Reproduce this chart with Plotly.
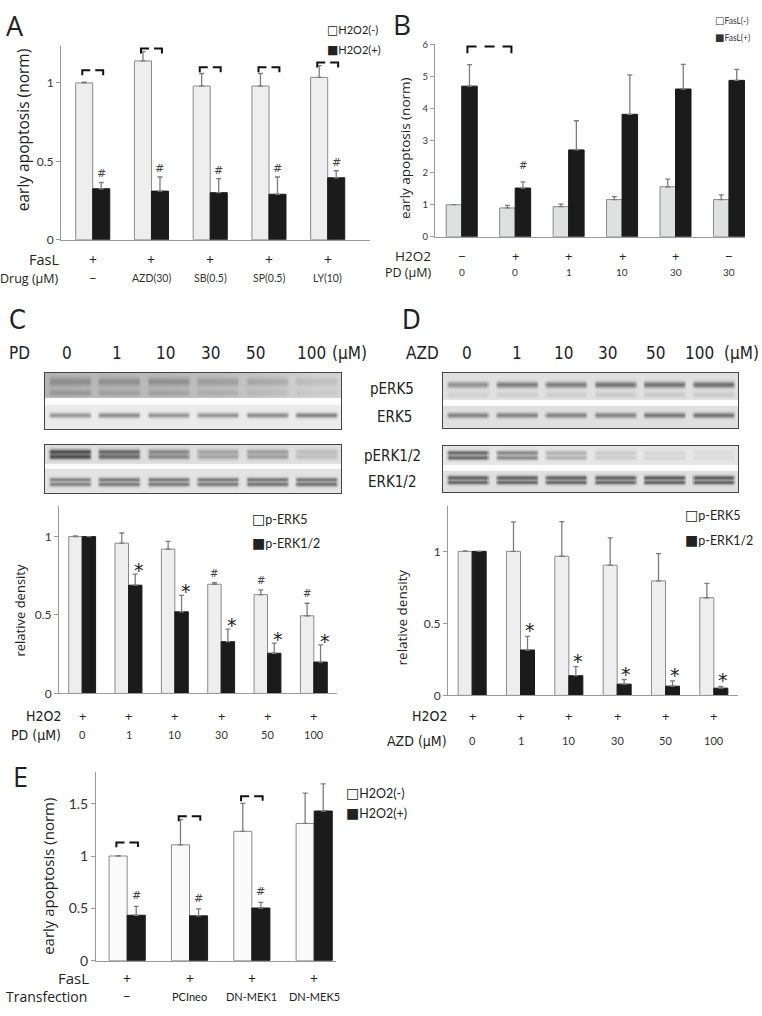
import numpy as np
import plotly.graph_objects as go

W, H = 762, 1016

# ---------------- data ----------------
# Panel A
A_fasl = ["+", "+", "+", "+", "+"]
A_drugs = ["\u2212", "AZD(30)", "SB(0.5)", "SP(0.5)", "LY(10)"]
A_neg = [1.00, 1.14, 0.98, 0.98, 1.035]
A_neg_err = [0.004, 0.06, 0.08, 0.08, 0.075]
A_pos = [0.325, 0.31, 0.30, 0.29, 0.395]
A_pos_err = [0.04, 0.09, 0.09, 0.11, 0.045]
A_pos_sig = ["#", "#", "#", "#", "#"]
A_brackets = [1.08, 1.22, 1.10, 1.10, 1.13]

# Panel B
B_h2o2 = ["\u2212", "+", "+", "+", "+", "\u2212"]
B_pd = ["0", "0", "1", "10", "30", "30"]
B_neg = [1.00, 0.90, 0.94, 1.16, 1.56, 1.16]
B_neg_err = [0.0, 0.08, 0.08, 0.09, 0.24, 0.15]
B_pos = [4.70, 1.52, 2.71, 3.82, 4.61, 4.88]
B_pos_err = [0.67, 0.19, 0.91, 1.23, 0.77, 0.34]
B_pos_sig = ["", "#", "", "", "", ""]
B_bracket = 5.94

# Panel C
C_h2o2 = ["+"] * 6
C_pd = ["0", "1", "10", "30", "50", "100"]
C_erk5 = [1.00, 0.958, 0.92, 0.696, 0.63, 0.495]
C_erk5_err = [0.004, 0.065, 0.05, 0.01, 0.03, 0.08]
C_erk12 = [1.00, 0.69, 0.52, 0.33, 0.256, 0.20]
C_erk12_err = [0.0, 0.07, 0.105, 0.08, 0.065, 0.11]
C_erk5_sig = ["", "", "", "#", "#", "#"]
C_erk12_sig = ["", "*", "*", "*", "*", "*"]

# Panel D
D_h2o2 = ["+"] * 6
D_azd = ["0", "1", "10", "30", "50", "100"]
D_erk5 = [1.00, 1.00, 0.966, 0.904, 0.795, 0.678]
D_erk5_err = [0.004, 0.205, 0.24, 0.19, 0.19, 0.10]
D_erk12 = [1.00, 0.315, 0.137, 0.078, 0.064, 0.05]
D_erk12_err = [0.0, 0.095, 0.063, 0.032, 0.036, 0.012]
D_erk12_sig = ["", "*", "*", "*", "*", "*"]

# Panel E
E_fasl = ["+", "+", "+", "+"]
E_trans = ["\u2212", "PCIneo", "DN-MEK1", "DN-MEK5"]
E_neg = [1.00, 1.107, 1.236, 1.311]
E_neg_err = [0.004, 0.24, 0.267, 0.29]
E_pos = [0.434, 0.428, 0.503, 1.43]
E_pos_err = [0.085, 0.066, 0.054, 0.26]
E_pos_sig = ["#", "#", "#", ""]
E_brackets = [1.13, 1.38, 1.57]

# Western blot band darkness per lane (0 = white, 1 = black)
C_pERK5_bg = [0.29, 0.27, 0.27, 0.25, 0.22, 0.17]
C_pERK5 = [0.16, 0.16, 0.17, 0.13, 0.12, 0.08]
C_pERK5_low = [0.12, 0.10, 0.10, 0.07, 0.05, 0.04]
C_ERK5 = [0.32, 0.36, 0.33, 0.33, 0.36, 0.40]
C_pERK12 = [0.55, 0.45, 0.33, 0.22, 0.24, 0.12]
C_ERK12 = [0.36, 0.40, 0.40, 0.40, 0.42, 0.42]
D_pERK5 = [0.30, 0.38, 0.38, 0.42, 0.42, 0.44]
D_ERK5 = [0.36, 0.36, 0.36, 0.36, 0.40, 0.42]
D_pERK12 = [0.48, 0.36, 0.20, 0.10, 0.06, 0.04]
D_ERK12 = [0.48, 0.48, 0.48, 0.48, 0.50, 0.50]
lane_labels_C = C_pd
lane_labels_D = D_azd
header_px_C = [67, 117, 165, 210, 255, 311]
header_px_D = [467, 517, 563, 607, 655, 699]

# ---------------- styling ----------------
SANS = "Open Sans, Noto Sans, DejaVu Sans, sans-serif"
TICK = "Lato, Carlito, Noto Sans, sans-serif"
MARK = "DejaVu Sans, Liberation Sans, sans-serif"
COND = "Liberation Sans Narrow, DejaVu Sans Condensed, Roboto Condensed, Roboto, sans-serif"
BLACK = "#1b1b1b"
AX = "#9a9a9a"
ERR = "#7c7c7c"


def px(x):
    return x / W


def py(y):
    return 1 - y / H


fig = go.Figure()
annotations = []


def ann(text, x, y, size, family=SANS, xanchor="center", yanchor="middle",
        color="#222", xref="paper", yref="paper", angle=0, xshift=0, yshift=0):
    if xref == "paper":
        x = px(x)
    if yref == "paper":
        y = py(y)
    elif yref == "paper_raw":
        yref = "paper"
    annotations.append(dict(text=text, x=x, y=y, xref=xref, yref=yref,
                            xanchor=xanchor, yanchor=yanchor, showarrow=False,
                            textangle=angle, xshift=xshift, yshift=yshift, borderpad=0,
                            font=dict(size=size, family=family, color=color)))


def legend_item(filled, label, x, y, size, box=13, color="#222"):
    sq = "\u25a0" if filled else "\u25a1"
    txt = f"<span style='font-family:DejaVu Sans;font-size:{box}px'>{sq}</span>{label}"
    ann(txt, x, y, size, family=TICK, xanchor="left", color=color)


def bar_pair(ax, neg, neg_err, pos, pos_err, neg_fill, neg_line="#8a8a8a"):
    xa = "x" if ax == 1 else f"x{ax}"
    ya = "y" if ax == 1 else f"y{ax}"
    n = len(neg)
    xs = list(range(n))
    fig.add_trace(go.Bar(x=xs, y=neg, xaxis=xa, yaxis=ya, showlegend=False,
                         marker=dict(color=neg_fill, line=dict(color=neg_line, width=1)),
                         error_y=dict(type="data", array=neg_err, arrayminus=[0] * n,
                                      symmetric=False, color=ERR, thickness=1.3, width=2.5),
                         hoverinfo="skip"))
    fig.add_trace(go.Bar(x=xs, y=pos, xaxis=xa, yaxis=ya, showlegend=False,
                         marker=dict(color=BLACK, line=dict(color=BLACK, width=1)),
                         error_y=dict(type="data", array=pos_err, arrayminus=[0] * n,
                                      symmetric=False, color=ERR, thickness=1.3, width=2.5),
                         hoverinfo="skip"))


def bracket(ax, x0, x1, level, d, dash):
    xa = "x" if ax == 1 else f"x{ax}"
    ya = "y" if ax == 1 else f"y{ax}"
    fig.add_trace(go.Scatter(x=[x0, x0, x1, x1], y=[level - d, level, level, level - d],
                             xaxis=xa, yaxis=ya, mode="lines", showlegend=False,
                             hoverinfo="skip",
                             line=dict(color="#111", width=2, dash=dash)))


def sig_marks(ax, labels, vals, errs, side, size, yshift, xshift=0, yanchor="bottom", color="#444"):
    xa = "x" if ax == 1 else f"x{ax}"
    ya = "y" if ax == 1 else f"y{ax}"
    for i, (lab, v, e) in enumerate(zip(labels, vals, errs)):
        if lab:
            ann(lab, i + side * 0.145, v + e, size, family=MARK, xref=xa, yref=ya,
                yanchor=yanchor, yshift=yshift, xshift=xshift, color=color)


layout_axes = {}


def axis_pair(ax, xdom, ydom, xrange, yrange, tickvals, ticksize):
    xk = "xaxis" if ax == 1 else f"xaxis{ax}"
    yk = "yaxis" if ax == 1 else f"yaxis{ax}"
    ya = "y" if ax == 1 else f"y{ax}"
    xa = "x" if ax == 1 else f"x{ax}"
    layout_axes[xk] = dict(domain=[px(xdom[0]), px(xdom[1])], range=xrange, anchor=ya,
                           showline=True, linecolor=AX, linewidth=1, showgrid=False,
                           zeroline=False, showticklabels=False, ticks="", fixedrange=True)
    layout_axes[yk] = dict(domain=[py(ydom[1]), py(ydom[0])], range=yrange, anchor=xa,
                           showline=True, linecolor=AX, linewidth=1, showgrid=False,
                           zeroline=False, ticks="outside", ticklen=4, tickcolor=AX,
                           tickvals=tickvals, ticktext=[f"{t:g}" for t in tickvals],
                           tickfont=dict(family=TICK, size=ticksize, color="#333"),
                           fixedrange=True)


# ---------------- Panel A ----------------
axis_pair(1, (61, 370), (40.6, 237), [-0.54, 4.72], [0, 1.235], [0, 0.5, 1], 12)
bar_pair(1, A_neg, A_neg_err, A_pos, A_pos_err, "#eeeeee")
for i, b in enumerate(A_brackets):
    bracket(1, i - 0.178, i + 0.178, b, 0.032, "13px,5px")
sig_marks(1, A_pos_sig, A_pos, A_pos_err, 1, 11, 1)
ann("A", 15, 20, 27)
ann("early apoptosis (norm)", 23, 126, 15.5, angle=-90)
legend_item(False, "H2O2(-)", 326, 24, 11, box=12)
legend_item(True, "H2O2(+)", 326, 45, 11, box=12)
ann("FasL", 60, 257, 14.5, xanchor="right")
ann("Drug (\u00b5M)", 60, 276, 12.5, xanchor="right")
for i, (f, d) in enumerate(zip(A_fasl, A_drugs)):
    ann(f, i, py(257), 14, xref="x", yref="paper_raw")
    ann(d, i, py(276), 10.5 if d != "\u2212" else 13, family=TICK, xref="x",
        yref="paper_raw", color="#333")

# ---------------- Panel B ----------------
axis_pair(2, (435, 745), (39, 234), [-0.5, 5.3], [0, 6], [0, 1, 2, 3, 4, 5, 6], 9.5)
bar_pair(2, B_neg, B_neg_err, B_pos, B_pos_err, "#dfe1e1")
bracket(2, 0.107, 0.93, B_bracket, 0.215, "16px,8px,10px,8px")
sig_marks(2, B_pos_sig, B_pos, B_pos_err, 1, 10, 16, yanchor="middle")
ann("B", 402, 18, 28)
ann("early apoptosis (norm)", 405, 144, 13.5, angle=-90)
legend_item(False, "FasL(-)", 714, 15, 8.5, box=10, color="#333")
legend_item(True, "FasL(+)", 714, 32, 8.5, box=10, color="#333")
ann("H2O2", 432, 253, 13.5, xanchor="right")
ann("PD (\u00b5M)", 432, 270.5, 12.5, xanchor="right")
for i, (h, p) in enumerate(zip(B_h2o2, B_pd)):
    ann(h, i, py(253), 13, xref="x2", yref="paper_raw")
    ann(p, i, py(270), 10, family=TICK, xref="x2", yref="paper_raw", color="#333")

# ---------------- Panel C chart ----------------
axis_pair(3, (59, 337), (507, 697), [-0.5, 5.5], [0, 1.195], [0, 0.5, 1], 12)
bar_pair(3, C_erk5, C_erk5_err, C_erk12, C_erk12_err, "#eeeeee")
sig_marks(3, C_erk5_sig, C_erk5, C_erk5_err, -1, 10, 3)
sig_marks(3, C_erk12_sig, C_erk12, C_erk12_err, 1, 19, 4, xshift=4, yanchor="middle", color="#222")
ann("relative density", 20, 613, 13, angle=-90)
legend_item(False, "p-ERK5", 251, 520, 12.5, box=14)
legend_item(True, "p-ERK1/2", 251, 545, 12.5, box=14)
ann("H2O2", 62, 720, 14, family=COND, xanchor="right")
ann("PD (\u00b5M)", 62, 739, 14, family=COND, xanchor="right")
for i, (h, p) in enumerate(zip(C_h2o2, C_pd)):
    ann(h, i, py(720), 13, xref="x3", yref="paper_raw")
    ann(p, i, py(739), 11, family=TICK, xref="x3", yref="paper_raw", color="#333")

# ---------------- Panel D chart ----------------
axis_pair(4, (448, 738), (507, 699), [-0.5, 5.5], [0, 1.315], [0, 0.5, 1], 12)
bar_pair(4, D_erk5, D_erk5_err, D_erk12, D_erk12_err, "#eeeeee")
sig_marks(4, D_erk12_sig, D_erk12, D_erk12_err, 1, 19, 6, xshift=2, yanchor="middle", color="#222")
ann("relative density", 402, 620, 13.5, angle=-90)
legend_item(False, "p-ERK5", 684, 516, 12.5, box=14)
legend_item(True, "p-ERK1/2", 684, 541, 12.5, box=14)
ann("H2O2", 448, 720, 14, family=COND, xanchor="right")
ann("AZD (\u00b5M)", 448, 745, 14, family=COND, xanchor="right")
for i, (h, p) in enumerate(zip(D_h2o2, D_azd)):
    ann(h, i, py(720), 13, xref="x4", yref="paper_raw")
    ann(p, i, py(745), 11, family=TICK, xref="x4", yref="paper_raw", color="#333")

# ---------------- Panel E ----------------
axis_pair(5, (96, 336), (777, 968), [-0.5, 3.35], [0, 1.80], [0, 0.5, 1, 1.5], 14)
bar_pair(5, E_neg, E_neg_err, E_pos, E_pos_err, "#fafafa")
for i, b in enumerate(E_brackets):
    bracket(5, i - 0.173, i + 0.173, b, 0.047, "13px,5px")
sig_marks(5, E_pos_sig, E_pos, E_pos_err, 1, 11, 3)
ann("E", 20, 781, 27)
ann("early apoptosis (norm)", 48, 883, 15, angle=-90)
legend_item(False, "H2O2(-)", 345, 798, 12.5, box=14)
legend_item(True, "H2O2(+)", 345, 818, 12.5, box=14)
ann("FasL", 90, 986, 15, xanchor="right")
ann("Transfection", 88, 1004, 14, xanchor="right")
for i, (f, t) in enumerate(zip(E_fasl, E_trans)):
    ann(f, i, py(986), 14, xref="x5", yref="paper_raw")
    ann(t, i, py(1004), 11 if t != "\u2212" else 13, family=TICK, xref="x5",
        yref="paper_raw", color="#222")


# ---------------- Western blots ----------------
def lane_profile(x, vals, soft=0.07):
    out = np.zeros_like(x)
    for i, v in enumerate(vals):
        left = np.clip((x - (i + 0.05)) / soft, 0, 1)
        right = np.clip(((i + 0.95) - x) / soft, 0, 1)
        out += v * np.minimum(left, right)
    return out


def lane_smooth(x, vals):
    centers = np.arange(len(vals)) + 0.5
    return np.interp(x, centers, vals)


def blot(ax, xdom, ydom, strips, bands):
    h = ydom[1] - ydom[0]
    x = np.linspace(0, 6, 240)
    y = np.arange(0, h + 0.5, 0.5)
    z = np.zeros((len(y), len(x)))
    for (y0, y1, bg) in strips:
        mask = (y >= y0) & (y < y1)
        if isinstance(bg, (list, tuple)):
            z[mask, :] = lane_smooth(x, bg)[None, :]
        else:
            z[mask, :] = bg
    for (yc, sig, vals) in bands:
        gy = np.exp(-((y - yc) ** 2) / (2 * sig ** 2))
        z += np.outer(gy, lane_profile(x, vals))
    z = np.clip(z, 0, 1)
    xa, ya = f"x{ax}", f"y{ax}"
    fig.add_trace(go.Heatmap(x=x, y=y, z=z, xaxis=xa, yaxis=ya, zmin=0, zmax=1,
                             colorscale=[[0, "#ffffff"], [1, "#000000"]],
                             showscale=False, zsmooth="best", hoverinfo="skip"))
    layout_axes[f"xaxis{ax}"] = dict(domain=[px(xdom[0]), px(xdom[1])], range=[0, 6], anchor=ya,
                                     showline=True, mirror=True, linecolor="#444", linewidth=1.3,
                                     showgrid=False, zeroline=False, showticklabels=False,
                                     ticks="", fixedrange=True)
    layout_axes[f"yaxis{ax}"] = dict(domain=[py(ydom[1]), py(ydom[0])], range=[h, 0], anchor=xa,
                                     showline=True, mirror=True, linecolor="#444", linewidth=1.3,
                                     showgrid=False, zeroline=False, showticklabels=False,
                                     ticks="", fixedrange=True)


blot(6, (45, 341), (372, 429),
     [(0, 25, C_pERK5_bg), (25, 32, 0.01), (32, 57, 0.08)],
     [(9, 3.0, C_pERK5), (20, 2.2, C_pERK5_low), (43, 1.8, C_ERK5)])
blot(7, (45, 341), (445, 494),
     [(0, 19, 0.13), (19, 24, 0.01), (24, 49, 0.11)],
     [(7, 1.8, C_pERK12), (12, 1.8, C_pERK12), (35, 1.6, C_ERK12), (40, 1.6, C_ERK12)])
blot(8, (443, 738), (372, 428),
     [(0, 27, 0.12), (27, 33, 0.01), (33, 56, 0.12)],
     [(12, 2.2, D_pERK5), (22, 2.0, [v * 0.2 for v in D_pERK5]), (43, 1.9, D_ERK5)])
blot(9, (443, 738), (446, 493),
     [(0, 19, 0.10), (19, 25, 0.01), (25, 47, 0.12)],
     [(7, 1.6, D_pERK12), (12, 1.6, D_pERK12), (32, 1.6, D_ERK12), (37, 1.6, D_ERK12)])

ann("C", 17, 318, 27, family=COND)
ann("D", 411, 318, 27, family=COND)
ann("PD", 19, 352, 17, family=COND)
ann("(\u00b5M)", 349, 352, 17, family=COND)
ann("AZD", 422, 352, 17, family=COND)
ann("(\u00b5M)", 741, 352, 17, family=COND)
for lab, xp in zip(lane_labels_C, header_px_C):
    ann(lab, xp, 352, 17, family=COND)
for lab, xp in zip(lane_labels_D, header_px_D):
    ann(lab, xp, 352, 17, family=COND)
ann("pERK5", 392, 388, 15, family=COND)
ann("ERK5", 394, 417, 15, family=COND)
ann("pERK1/2", 392, 456, 15, family=COND)
ann("ERK1/2", 392, 483, 15, family=COND)

fig.update_layout(width=W, height=H, margin=dict(l=0, r=0, t=0, b=0),
                  paper_bgcolor="white", plot_bgcolor="white",
                  barmode="group", bargap=0.42, bargroupgap=0,
                  showlegend=False, annotations=annotations, **layout_axes)

fig.write_html("out.html", config={"displayModeBar": False},
               post_script="document.body.style.margin='0px';document.body.style.overflow='hidden';")
